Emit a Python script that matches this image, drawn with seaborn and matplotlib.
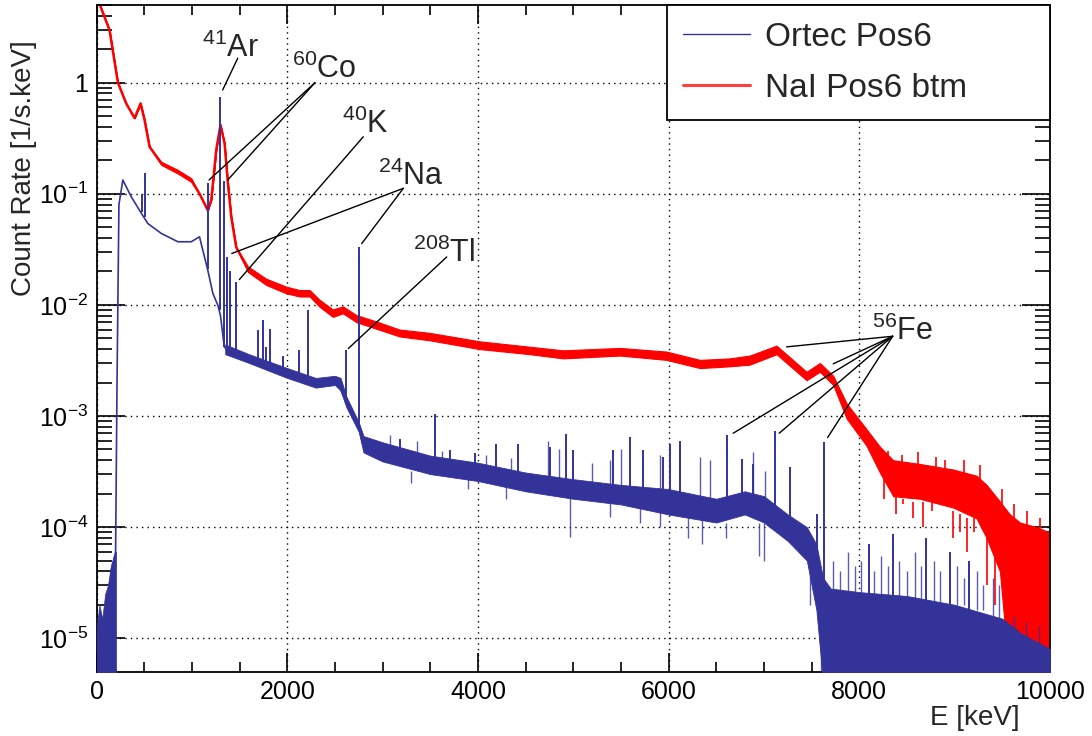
import numpy as np
import matplotlib
matplotlib.use("Agg")
import matplotlib.pyplot as plt
import matplotlib.ticker as mticker
import seaborn as sns

# NaI detector (red): energy [keV], central rate and noise band edges [1/s.keV]
nai_energy = [0, 136, 224, 311, 399, 462, 504, 556, 679, 853, 993, 1080, 1167, 1203, 1256,
              1300, 1343, 1378, 1413, 1465, 1588, 1780, 1990, 2130, 2235, 2340, 2479, 2584,
              2724, 2934, 3178, 3494, 4019, 4545, 4894, 5489, 5978, 6328, 6642, 6852, 7132,
              7447, 7587, 7727, 7867, 8076, 8216, 8356, 8636, 8985, 9230, 9335, 9475, 9580,
              9685, 9860, 9990]
nai_rate = [6.0, 2.98, 1.0, 0.65, 0.48, 0.65, 0.46, 0.265, 0.188, 0.158, 0.133, 0.10, 0.071,
            0.088, 0.25, 0.416, 0.284, 0.124, 0.062, 0.033, 0.021, 0.0161, 0.0136, 0.0127,
            0.0127, 0.0103, 0.0084, 0.0090, 0.0075, 0.0066, 0.0056, 0.0052, 0.0043, 0.0039,
            0.0036, 0.0038, 0.0035, 0.0029, 0.0030, 0.0032, 0.0039, 0.0023, 0.0027, 0.0021,
            0.0011, 0.00065, 0.00042, 0.00028, 0.00026, 0.00023, 0.00020, 0.00015, 0.0001,
            5e-5, 2.5e-5, 1.5e-5, 7.7e-6]
nai_low = [6.0, 2.98, 1.0, 0.65, 0.48, 0.65, 0.46, 0.265, 0.182, 0.152, 0.128, 0.10, 0.071,
           0.088, 0.25, 0.416, 0.284, 0.124, 0.062, 0.033, 0.0198, 0.0151, 0.0127, 0.0119,
           0.0119, 0.0096, 0.0078, 0.0084, 0.0070, 0.0061, 0.0052, 0.0048, 0.0040, 0.0036,
           0.0033, 0.0035, 0.0032, 0.0027, 0.0028, 0.0029, 0.0036, 0.0021, 0.0025, 0.0019,
           0.00095, 0.00054, 0.00031, 0.00019, 0.00018, 0.00015, 0.00012, 8e-5, 4e-5,
           4e-6, 4e-6, 4e-6, 4e-6]
nai_high = [6.0, 2.98, 1.0, 0.65, 0.48, 0.65, 0.46, 0.265, 0.194, 0.164, 0.138, 0.10, 0.071,
            0.088, 0.25, 0.416, 0.284, 0.124, 0.062, 0.033, 0.0222, 0.0172, 0.0146, 0.0136,
            0.0136, 0.0111, 0.0091, 0.0097, 0.0081, 0.0071, 0.0060, 0.0056, 0.0047, 0.0042,
            0.0039, 0.0041, 0.0038, 0.0032, 0.0033, 0.0035, 0.0043, 0.0025, 0.0030, 0.0023,
            0.0013, 0.00076, 0.00053, 0.00040, 0.00037, 0.00033, 0.00029, 0.00024, 0.00017,
            0.00013, 0.00011, 0.0001, 9e-5]

# NaI noise spikes (down and up)
nai_dip_energy = [8260, 8390, 8460, 8560, 8670, 8760, 8985, 9060, 9125, 9200, 9335, 9420]
nai_dip_low = [0.00018, 0.00013, 0.00016, 0.00012, 0.0001, 0.00014, 8e-5, 9e-5, 6e-5,
               9e-5, 3e-5, 2e-5]
nai_dip_high = [0.00030, 0.00019, 0.00018, 0.00017, 0.00017, 0.00018, 0.00014, 0.00013,
                0.00012, 0.00012, 8e-5, 6e-5]
nai_spike_energy = [8300, 8450, 8620, 8800, 8900, 9100, 9270, 9500, 9620, 9760, 9900]
nai_spike_low = [0.00035, 0.00033, 0.00032, 0.0003, 0.0003, 0.00028, 0.00025, 0.00015,
                 0.00011, 9e-5, 8e-5]
nai_spike_high = [0.00048, 0.00045, 0.00047, 0.00043, 0.00040, 0.00040, 0.00036, 0.00022,
                  0.00016, 0.00014, 0.00012]

# Ortec detector (blue): continuum
ortec_energy = [0, 60, 120, 160, 200, 215, 235, 276, 364, 469, 538, 679, 853, 993, 1080, 1115,
                1167, 1220, 1273, 1300, 1340, 1360, 1448, 1605, 1728, 1990, 2305, 2479, 2530,
                2620, 2724, 2759, 2794, 3004, 3494, 4019, 4718, 5418, 5943, 6468, 6710, 6887,
                7062, 7237, 7412, 7517, 7587, 7700, 8000, 8600, 9300, 9860, 10000]
ortec_rate = [8e-6, 1.2e-5, 2e-5, 4e-5, 6e-5, 0.002, 0.08, 0.133, 0.094, 0.067, 0.054, 0.044,
              0.037, 0.037, 0.041, 0.031, 0.0205, 0.0127, 0.0099, 0.008, 0.0042, 0.0040, 0.0035,
              0.0033, 0.0028, 0.0024, 0.00196, 0.0021, 0.0020, 0.0013, 0.00091, 0.00079,
              0.00056, 0.00049, 0.00037, 0.00032, 0.000246, 0.0002, 0.000186, 0.000141,
              0.000174, 0.000174, 0.00014, 0.0001, 7.6e-5, 4.4e-5, 2.5e-5, 1.2e-5, 1.2e-5,
              1.1e-5, 9e-6, 7e-6, 6e-6]

# Ortec noise band
ortec_band_energy = [1350, 1600, 2000, 2300, 2500, 2560, 2620, 2750, 2800, 3000, 3500, 4000,
                     4500, 5000, 5500, 6000, 6500, 6800, 7000, 7250, 7450, 7550, 7620, 7700,
                     8000, 8500, 9000, 9500, 9700, 10000]
ortec_band_low = [0.0036, 0.0030, 0.0022, 0.0018, 0.0019, 0.0017, 0.0012, 0.00072, 0.00047,
                  0.00039, 0.00030, 0.00026, 0.00021, 0.00018, 0.00016, 0.00013, 0.00011,
                  0.00013, 0.00011, 7.5e-5, 5e-5, 1.8e-5, 4e-6, 4e-6, 4e-6, 4e-6, 4e-6, 4e-6,
                  4e-6, 4e-6]
ortec_band_high = [0.0044, 0.0036, 0.0027, 0.0022, 0.0023, 0.0022, 0.0015, 0.00088, 0.00066,
                   0.00058, 0.00044, 0.00038, 0.00031, 0.00027, 0.00024, 0.00022, 0.00018,
                   0.00021, 0.00019, 0.00013, 0.0001, 7e-5, 3.5e-5, 2.8e-5, 2.6e-5, 2.4e-5,
                   2e-5, 1.5e-5, 1.1e-5, 8e-6]

# Ortec threshold noise below 200 keV
ortec_thr_energy = [0, 30, 60, 90, 120, 150, 180, 205]
ortec_thr_high = [1.2e-5, 2e-5, 1.5e-5, 2.5e-5, 3e-5, 4.5e-5, 5.5e-5, 6e-5]

# Ortec gamma lines: energy, continuum under the line, line top
ortec_peak_energy = [480, 511, 1173, 1294, 1332, 1369, 1400, 1461, 1692, 1745, 1780, 1822,
                     1954, 2119, 2223, 2614, 2754, 3178, 3546, 3703, 3965, 4194, 4421, 4753,
                     4928, 4998, 5418, 5593, 5733, 5943, 6013, 6118, 6608, 6766, 6887, 7115,
                     7270, 7552, 7630, 8100, 8356, 8700, 8950, 9150]
ortec_peak_base = [0.068, 0.062, 0.021, 0.009, 0.0042, 0.0040, 0.0038, 0.0035, 0.0031, 0.0030,
                   0.0030, 0.0029, 0.0025, 0.0022, 0.0021, 0.0013, 0.0008, 0.00045, 0.00038,
                   0.00036, 0.00033, 0.00031, 0.00029, 0.00025, 0.00024, 0.00023, 0.0002,
                   0.0002, 0.00019, 0.00018, 0.00018, 0.00017, 0.00016, 0.00017, 0.00017,
                   0.00014, 0.0001, 3e-5, 2e-5, 1.5e-5, 1.5e-5, 1.3e-5, 1.2e-5, 1.1e-5]
ortec_peak_top = [0.10, 0.153, 0.124, 0.75, 0.13, 0.027, 0.02, 0.0161, 0.0059, 0.0073, 0.0042,
                  0.0061, 0.0035, 0.0039, 0.009, 0.0039, 0.0333, 0.000625, 0.00105, 0.00049,
                  0.00046, 0.00056, 0.00056, 0.00053, 0.00069, 0.00049, 0.00049, 0.00065,
                  0.00049, 0.00043, 0.00056, 0.0006, 0.00067, 0.00041, 0.00037, 0.00074,
                  0.00035, 0.00013, 0.00058, 7e-5, 8.7e-5, 8e-5, 6e-5, 5e-5]

# Ortec small noise spikes above the band
ortec_spike_energy = [3080, 3358, 3620, 4080, 4350, 4735, 4850, 5200, 5383, 5500, 5908, 6327,
                      6432, 6888, 7010, 7720, 7800, 7880, 7950, 8020, 8150, 8230, 8300, 8420,
                      8500, 8580, 8650, 8780, 8850, 9020, 9100, 9230, 9300, 9400, 9470, 9620,
                      9750, 9880]
ortec_spike_low = [0.00055, 0.00042, 0.00036, 0.00035, 0.0003, 0.00027, 0.00026, 0.00025,
                   0.00023, 0.00022, 0.0002, 0.00017, 0.00017, 0.0002, 0.00018, 2.5e-5, 2.5e-5,
                   2.5e-5, 2.5e-5, 2.5e-5, 2.4e-5, 2.4e-5, 2.4e-5, 2.3e-5, 2.3e-5, 2.2e-5,
                   2.2e-5, 2.1e-5, 2.1e-5, 2e-5, 2e-5, 1.8e-5, 1.8e-5, 1.6e-5, 1.5e-5, 1e-5,
                   9e-6, 8e-6]
ortec_spike_high = [0.00068, 0.00059, 0.00048, 0.00045, 0.00042, 0.0006, 0.0005, 0.00038,
                    0.0004, 0.0005, 0.00045, 0.00043, 0.0004, 0.00047, 0.00032, 5e-5, 4e-5,
                    6e-5, 4.5e-5, 5e-5, 4e-5, 5.5e-5, 4.5e-5, 5e-5, 4e-5, 6e-5, 4.5e-5, 5e-5,
                    4e-5, 4.5e-5, 3.5e-5, 4e-5, 3e-5, 3.5e-5, 3e-5, 1.6e-5, 1.4e-5, 1.3e-5]

# Ortec downward noise spikes
ortec_dip_energy = [3300, 3900, 4290, 4963, 5383, 5700, 5908, 6200, 6350, 6600, 6950, 7000,
                    7480, 7600, 7650]
ortec_dip_low = [0.00025, 0.00022, 0.00018, 8.1e-5, 0.000123, 0.00011, 0.0001, 8e-5, 7e-5,
                 8e-5, 5.5e-5, 5e-5, 2e-5, 4e-6, 4e-6]
ortec_dip_high = [0.00032, 0.00028, 0.00024, 0.00019, 0.00017, 0.00016, 0.00014, 0.00013,
                  0.00012, 0.00011, 0.00011, 0.00011, 6e-5, 4e-5, 3e-5]

YMIN, YMAX = 5e-6, 5.0
BLUE = "#333399"
RED = "#ff0000"

sns.set_style("ticks")
plt.rcParams["font.family"] = ["Liberation Sans", "DejaVu Sans"]
plt.rcParams["mathtext.default"] = "regular"

fig = plt.figure(figsize=(10.92, 7.36), dpi=100)
ax = fig.add_axes([0.0884, 0.0874, 0.8731, 0.9058])
ax.set_yscale("log")

# NaI spectrum
ax.fill_between(nai_energy, nai_low, nai_high, color=RED, lw=0.8, zorder=2)
ax.vlines(nai_dip_energy, nai_dip_low, nai_dip_high, color=RED, lw=1.2, zorder=2)
ax.vlines(nai_spike_energy, nai_spike_low, nai_spike_high, color=RED, lw=1.2, zorder=2)
sns.lineplot(x=nai_energy, y=nai_rate, ax=ax, color=RED, lw=1.8, sort=False,
             estimator=None, zorder=2)

# Ortec spectrum
ax.fill_between(ortec_thr_energy, YMIN * 0.8, ortec_thr_high, color=BLUE, lw=0.5, zorder=3)
ax.fill_between(ortec_band_energy, ortec_band_low, ortec_band_high, color=BLUE, lw=0.6,
                zorder=3)
sns.lineplot(x=ortec_energy, y=ortec_rate, ax=ax, color=BLUE, lw=1.2, sort=False,
             estimator=None, zorder=3)
ax.vlines(ortec_peak_energy, ortec_peak_base, ortec_peak_top, color=BLUE, lw=1.4, zorder=3)
ax.vlines(ortec_spike_energy, ortec_spike_low, ortec_spike_high, color=BLUE, lw=1.0,
          alpha=0.8, zorder=3)
ax.vlines(ortec_dip_energy, ortec_dip_low, ortec_dip_high, color=BLUE, lw=1.0, alpha=0.8,
          zorder=3)

ax.set_xlim(0, 10000)
ax.set_ylim(YMIN, YMAX)

# axes and ticks in ROOT style
ax.xaxis.set_major_locator(mticker.MultipleLocator(2000))
ax.xaxis.set_minor_locator(mticker.MultipleLocator(500))
ax.yaxis.set_major_locator(mticker.FixedLocator([1e-5, 1e-4, 1e-3, 1e-2, 1e-1, 1]))
ax.yaxis.set_minor_locator(mticker.LogLocator(base=10, subs=np.arange(2, 10), numticks=12))
ax.yaxis.set_minor_formatter(mticker.NullFormatter())
ax.yaxis.set_major_formatter(mticker.FuncFormatter(
    lambda v, p: "1" if abs(v - 1) < 1e-9 else "$10^{%d}$" % round(np.log10(v))))
ax.tick_params(which="both", direction="in", top=True, right=True, colors="black",
               width=1.2, labelsize=18)
ax.tick_params(axis="x", which="major", length=14, pad=6)
ax.tick_params(axis="x", which="minor", length=7)
ax.tick_params(axis="y", which="major", length=20, pad=6)
ax.tick_params(axis="y", which="minor", length=11)
for s in ax.spines.values():
    s.set_color("black")
    s.set_linewidth(1.3)
ax.grid(True, which="major", color="black", ls=(0, (1, 3)), lw=1.0)

ax.set_xlabel("E [keV]", loc="right", fontsize=20)
ax.xaxis.set_label_coords(0.9685, -0.05)
ax.set_ylabel("Count Rate [1/s.keV]", loc="top", fontsize=20)
ax.yaxis.set_label_coords(-0.062, 0.9475)

# isotope labels with guide lines
notes = [
    ("$^{41}$Ar", 1405, 1.70, "center", [(1481, 1.66, 1323, 0.86)]),
    ("$^{60}$Co", 2049, 1.10, "left", [(2291, 1.0, 1180, 0.133), (2291, 1.0, 1376, 0.133)]),
    ("$^{40}$K", 2575, 0.352, "left", [(2798, 0.326, 1498, 0.0169)]),
    ("$^{24}$Na", 2952, 0.12, "left", [(3218, 0.112, 1418, 0.029), (3218, 0.112, 2781, 0.0356)]),
    ("$^{208}$Tl", 3316, 0.0244, "left", [(3673, 0.027, 2641, 0.00405)]),
    ("$^{56}$Fe", 8129, 0.00488, "left", [(8350, 0.00522, 7238, 0.00419),
                                          (8350, 0.00522, 7727, 0.00295),
                                          (8350, 0.00522, 6678, 0.0007),
                                          (8350, 0.00522, 7160, 0.0007),
                                          (8350, 0.00522, 7668, 0.00064)]),
]
for label, tx, ty, ha, segs in notes:
    ax.text(tx, ty, label, fontsize=22, ha=ha, va="baseline", zorder=5)
    for x0, y0, x1, y1 in segs:
        ax.annotate("", xy=(x1, y1), xytext=(x0, y0),
                    arrowprops=dict(arrowstyle="-", color="black", lw=1.0,
                                    shrinkA=0, shrinkB=0), zorder=5)

h_ortec, = ax.plot([], [], color=BLUE, lw=1.0)
h_nai, = ax.plot([], [], color="#ff4040", lw=2.2)
leg = ax.legend([h_ortec, h_nai], ["Ortec Pos6", "NaI Pos6 btm"], loc="upper left",
                bbox_to_anchor=(0.598, 0.0, 0.402, 1.0), mode="expand", borderaxespad=0,
                fontsize=24, fancybox=False, framealpha=1, edgecolor="black",
                handlelength=2.0, handletextpad=0.45, labelspacing=0.6, borderpad=0.5)
leg.get_frame().set_linewidth(1.3)
leg.set_zorder(10)

fig.savefig("out.png", dpi=100)
